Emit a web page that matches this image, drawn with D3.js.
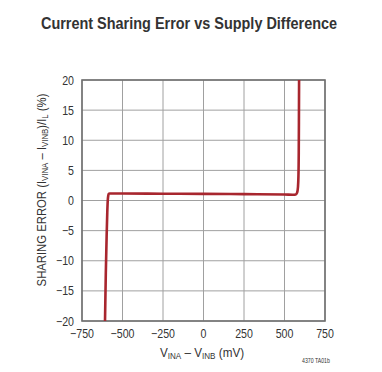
<!DOCTYPE html>
<html>
<head>
<meta charset="utf-8">
<script src="https://cdn.jsdelivr.net/npm/d3@7"></script>
<style>
body{margin:0;background:#fff}
text{font-family:"Liberation Sans",Arial,sans-serif;fill:#333}
</style>
</head>
<body>
<div id="chart"></div>
<script>
// 数据
const xTicks = [-750,-500,-250,0,250,500,750]
const yTicks = [-20,-15,-10,-5,0,5,10,15,20]
const diff_mV = [-608,-603,-598,-594,-591,-588,-585,-580,-500,-250,0,250,500,550,570,578,583,586,588,589,590]
const error_pct = [-20,-12,-6,-2,0,0.8,1.1,1.15,1.15,1.12,1.1,1.05,1.0,0.95,1.0,1.3,2.2,4,8,13,20]

const width = 382, height = 372
const svg = d3.select('#chart').append('svg').attr('width',width).attr('height',height)
const margin = {top:80,left:82,right:57,bottom:51}

const xScale = d3.scaleLinear().domain([-750,750]).range([margin.left,width-margin.right])
const yScale = d3.scaleLinear().domain([-20,20]).range([height-margin.bottom,margin.top])
const fmt = d => d<0 ? '\u2212'+(-d) : d

// 网格
const g = svg.append('g')
g.selectAll('.vg').data(xTicks).enter().append('line')
 .attr('x1',d=>xScale(d)).attr('x2',d=>xScale(d))
 .attr('y1',yScale(-20)).attr('y2',yScale(20))
 .attr('stroke','#a0a0a0').attr('stroke-width',1)
g.selectAll('.hg').data(yTicks).enter().append('line')
 .attr('y1',d=>yScale(d)).attr('y2',d=>yScale(d))
 .attr('x1',xScale(-750)).attr('x2',xScale(750))
 .attr('stroke','#a0a0a0').attr('stroke-width',1)
// 边框
g.append('rect').attr('x',xScale(-750)).attr('y',yScale(20))
 .attr('width',xScale(750)-xScale(-750)).attr('height',yScale(-20)-yScale(20))
 .attr('fill','none').attr('stroke','#707070').attr('stroke-width',1.6)

// 刻度文字 (横向压缩模拟窄体字)
g.selectAll('.xt').data(xTicks).enter().append('text')
 .attr('transform',d=>`translate(${xScale(d)},${yScale(-20)+17}) scale(0.85,1)`)
 .attr('text-anchor','middle').attr('font-size',12.5)
 .text(fmt)
g.selectAll('.yt').data(yTicks).enter().append('text')
 .attr('transform',d=>`translate(${xScale(-750)-8},${yScale(d)+4.5}) scale(0.85,1)`)
 .attr('text-anchor','end').attr('font-size',12.5)
 .text(fmt)

// 曲线
const line = d3.line().x(d=>xScale(d)).y((d,i)=>yScale(error_pct[i])).curve(d3.curveMonotoneX)
g.append('path').datum(diff_mV).attr('d',line)
 .attr('fill','none').attr('stroke','#a8262e').attr('stroke-width',2.6)

// 标题
svg.append('text').attr('transform','translate(189,29) scale(0.85,1)')
 .attr('text-anchor','middle')
 .attr('font-size',17).attr('font-weight','bold').attr('fill','#222')
 .text('Current Sharing Error vs Supply Difference')

// x轴标题
const xl = svg.append('text').attr('transform','translate(202,357) scale(0.9,1)')
 .attr('text-anchor','middle').attr('font-size',13)
xl.append('tspan').text('V')
xl.append('tspan').attr('font-size',9).attr('dy',2).text('INA')
xl.append('tspan').attr('dy',-2).text(' \u2013 V')
xl.append('tspan').attr('font-size',9).attr('dy',2).text('INB')
xl.append('tspan').attr('dy',-2).text(' (mV)')

// y轴标题
const yl = svg.append('text').attr('transform','translate(46,190) rotate(-90) scale(0.87,1)')
 .attr('text-anchor','middle').attr('font-size',13)
yl.append('tspan').text('SHARING ERROR (I')
yl.append('tspan').attr('font-size',9).attr('dy',2).text('VINA')
yl.append('tspan').attr('dy',-2).text(' \u2013 I')
yl.append('tspan').attr('font-size',9).attr('dy',2).text('VINB')
yl.append('tspan').attr('dy',-2).text(')/I')
yl.append('tspan').attr('font-size',9).attr('dy',2).text('L')
yl.append('tspan').attr('dy',-2).text(' (%)')

svg.append('text').attr('transform','translate(302,363) scale(0.8,1)').attr('font-size',6.5)
 .text('4370 TA01b')
</script>
</body>
</html>
